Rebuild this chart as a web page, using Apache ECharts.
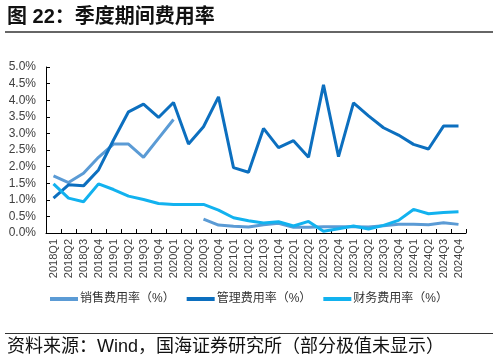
<!DOCTYPE html>
<html>
<head>
<meta charset="utf-8">
<script src="https://cdn.jsdelivr.net/npm/echarts@6/dist/echarts.min.js"></script>
<style>
html,body{margin:0;padding:0;background:#fff;}
#c{width:498px;height:362px;}
</style>
</head>
<body>
<div id="c"></div>
<script>
var categories = ['2018Q1','2018Q2','2018Q3','2018Q4','2019Q1','2019Q2','2019Q3','2019Q4',
  '2020Q1','2020Q2','2020Q3','2020Q4','2021Q1','2021Q2','2021Q3','2021Q4',
  '2022Q1','2022Q2','2022Q3','2022Q4','2023Q1','2023Q2','2023Q3','2023Q4',
  '2024Q1','2024Q2','2024Q3','2024Q4'];
var salesRate = [1.72,1.52,1.80,2.28, 2.68,2.68,2.28,2.85, 3.42,null,0.42,0.24,
  0.20,0.18,0.25,0.29, 0.17,0.17,0.19,0.19, 0.19,0.18,0.22,0.26, 0.26,0.25,0.31,0.26];
var mgmtRate = [1.05,1.45,1.42,1.90, 2.80,3.65,3.88,3.48, 3.93,2.68,3.20,4.10,
  1.97,1.83,3.15,2.57, 2.78,2.28,4.46,2.30, 3.92,3.53,3.17,2.95, 2.67,2.53,3.22,3.22];
var finRate = [1.48,1.05,0.94,1.48, 1.31,1.11,1.01,0.89, 0.86,0.86,0.86,0.69,
  0.46,0.37,0.30,0.34, 0.21,0.35,0.05,0.13, 0.21,0.12,0.23,0.38, 0.71,0.58,0.62,0.64];
var seriesNames = ['销售费用率（%）','管理费用率（%）','财务费用率（%）'];
var titleText = '图 22：季度期间费用率';
var sourceText = '资料来源：Wind，国海证券研究所（部分极值未显示）';

var chart = echarts.init(document.getElementById('c'), null, {renderer:'canvas'});
var cjk = '"Liberation Sans", "Noto Sans CJK SC", sans-serif';
var colors = ['#5b9bd5','#0c6fbf','#12b2ef'];
chart.setOption({
  animation:false,
  color: colors,
  grid:{left:46,right:32,top:67,bottom:129,containLabel:false},
  graphic:[
    {type:'text',left:7,top:7,style:{text:titleText,font:'bold 20px "Liberation Sans", "Noto Sans CJK SC", sans-serif',fill:'#111'}},
    {type:'line',shape:{x1:5,y1:32,x2:493,y2:32},style:{stroke:'#333',lineWidth:1.5}},
    {type:'line',shape:{x1:5,y1:333.5,x2:493,y2:333.5},style:{stroke:'#333',lineWidth:1}},
    {type:'text',left:7,top:338,style:{text:sourceText,font:'18px "Liberation Sans", "Noto Sans CJK SC", sans-serif',fill:'#111'}}
  ],
  legend:{
    data:seriesNames,
    top:288,left:45,
    icon:'rect',itemWidth:28,itemHeight:4,itemGap:12,
    textStyle:{fontSize:12,color:'#333',fontFamily:cjk,padding:[0,0,0,-3]}
  },
  xAxis:{
    type:'category',data:categories,boundaryGap:true,
    axisLine:{lineStyle:{color:'#000',width:1}},
    axisTick:{show:true,inside:true,length:4,lineStyle:{color:'#000'}},
    axisLabel:{rotate:90,interval:0,fontSize:11,color:'#404040',margin:6,fontFamily:cjk}
  },
  yAxis:{
    type:'value',min:0,max:5,interval:0.5,
    splitLine:{show:false},
    axisLine:{show:true,lineStyle:{color:'#000',width:1}},
    axisTick:{show:true,inside:true,length:4,lineStyle:{color:'#000'}},
    axisLabel:{fontSize:12,color:'#404040',margin:10,fontFamily:cjk,
      formatter:function(v){return v.toFixed(1)+'%';}}
  },
  series:[
    {name:seriesNames[0],type:'line',data:salesRate,showSymbol:false,symbol:'none',connectNulls:false,lineStyle:{width:3,color:colors[0]}},
    {name:seriesNames[1],type:'line',data:mgmtRate,showSymbol:false,symbol:'none',lineStyle:{width:3,color:colors[1]}},
    {name:seriesNames[2],type:'line',data:finRate,showSymbol:false,symbol:'none',lineStyle:{width:3,color:colors[2]}}
  ]
});
</script>
</body>
</html>
